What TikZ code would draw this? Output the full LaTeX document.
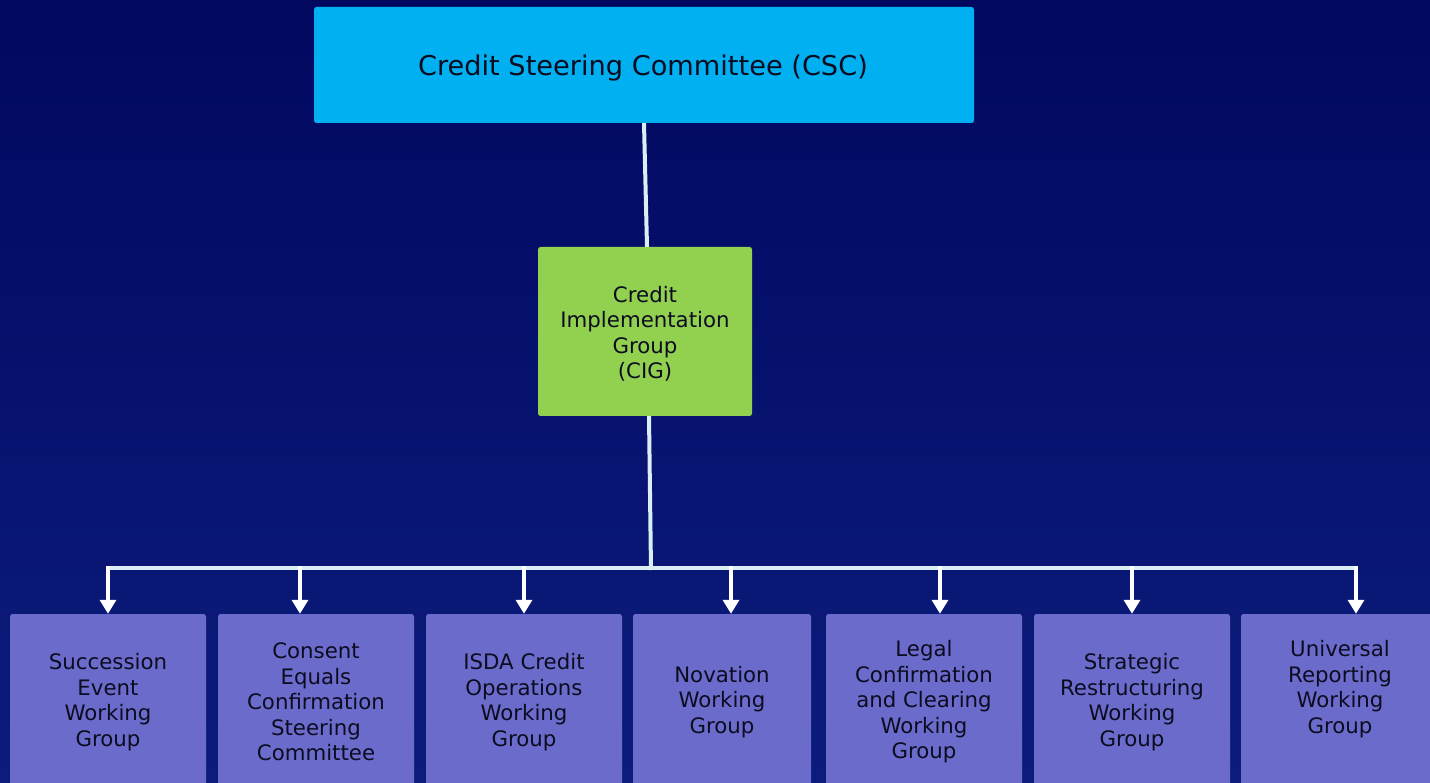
\documentclass[tikz,border=0pt]{standalone}
\usepackage{fontspec}
\setmainfont{DejaVu Sans}
\usetikzlibrary{arrows.meta}
\definecolor{bgtop}{RGB}{1,8,96}
\definecolor{bgbot}{RGB}{12,28,124}
\definecolor{cscblue}{RGB}{0,176,240}
\definecolor{ciggreen}{RGB}{146,208,80}
\definecolor{wgpurple}{RGB}{107,107,204}
\definecolor{linec}{RGB}{218,238,243}
\definecolor{txtc}{RGB}{12,12,32}
\begin{document}
\begin{tikzpicture}[x=1pt,y=-1pt,
  box/.style={rounded corners=2.5pt, inner sep=0pt, draw=none},
  wg/.style={box, fill=wgpurple, minimum width=196pt, minimum height=176pt},
  lbl/.style={text=txtc, align=center, inner sep=0pt, font=\fontsize{21.3}{25.5}\selectfont},
  conn/.style={draw=linec, line width=4pt},
  arr/.style={draw=white, line width=4pt, -{Triangle[width=16pt,length=14pt]}}
]
\useasboundingbox (0,0) rectangle (1430,783);
\clip (0,0) rectangle (1430,783);
\shade[top color=bgtop, bottom color=bgbot] (0,0) rectangle (1430,783);

% top committee
\node[box, fill=cscblue, minimum width=660pt, minimum height=116pt] (csc) at (644,65) {};
\node[lbl, font=\fontsize{27.2}{32}\selectfont] (csct) at (643,68) {Credit Steering Committee (CSC)};

% CIG
\node[box, fill=ciggreen, minimum width=214pt, minimum height=169pt] (cig) at (645,331.5) {};
\node[lbl] (cigt) at (645,334) {Credit\\Implementation\\Group\\(CIG)};

% working groups
\node[wg] (b1) at (108,702) {};
\node[wg] (b2) at (316,702) {};
\node[wg] (b3) at (524,702) {};
\node[wg, minimum width=178pt] (b4) at (722,702) {};
\node[wg] (b5) at (924,702) {};
\node[wg] (b6) at (1132,702) {};
\node[wg] (b7) at (1339,702) {};

\node[lbl] (t1) at (108,702) {Succession\\Event\\Working\\Group};
\node[lbl] (t2) at (316,702) {Consent\\Equals\\Confirmation\\Steering\\Committee};
\node[lbl] (t3) at (524,702) {ISDA Credit\\Operations\\Working\\Group};
\node[lbl] (t4) at (722,702) {Novation\\Working\\Group};
\node[lbl] (t5) at (924,702) {Legal\\Confirmation\\and Clearing\\Working\\Group};
\node[lbl] (t6) at (1132,702) {Strategic\\Restructuring\\Working\\Group};
\node[lbl] (t7) at (1340,689) {Universal\\Reporting\\Working\\Group};

% connectors
\coordinate (hub) at (651,568);
\coordinate (barL) at (106,568);
\coordinate (barR) at (1358,568);
\draw[conn] (csc.south) -- ([xshift=2pt]cig.north);
\draw[conn] ([xshift=4pt]cig.south) -- ([yshift=-2pt]hub);
\draw[conn] (barL) -- (barR);

\coordinate (a1) at (108,568);
\coordinate (a2) at (300,568);
\coordinate (a3) at (524,568);
\coordinate (a4) at (731,568);
\coordinate (a5) at (940,568);
\coordinate (a6) at (1132,568);
\coordinate (a7) at (1356,568);
\draw[arr] ([yshift=2pt]a1) -- (a1 |- b1.north);
\draw[arr] ([yshift=2pt]a2) -- (a2 |- b2.north);
\draw[arr] ([yshift=2pt]a3) -- (a3 |- b3.north);
\draw[arr] ([yshift=2pt]a4) -- (a4 |- b4.north);
\draw[arr] ([yshift=2pt]a5) -- (a5 |- b5.north);
\draw[arr] ([yshift=2pt]a6) -- (a6 |- b6.north);
\draw[arr] ([yshift=2pt]a7) -- (a7 |- b7.north);
\end{tikzpicture}
\end{document}
